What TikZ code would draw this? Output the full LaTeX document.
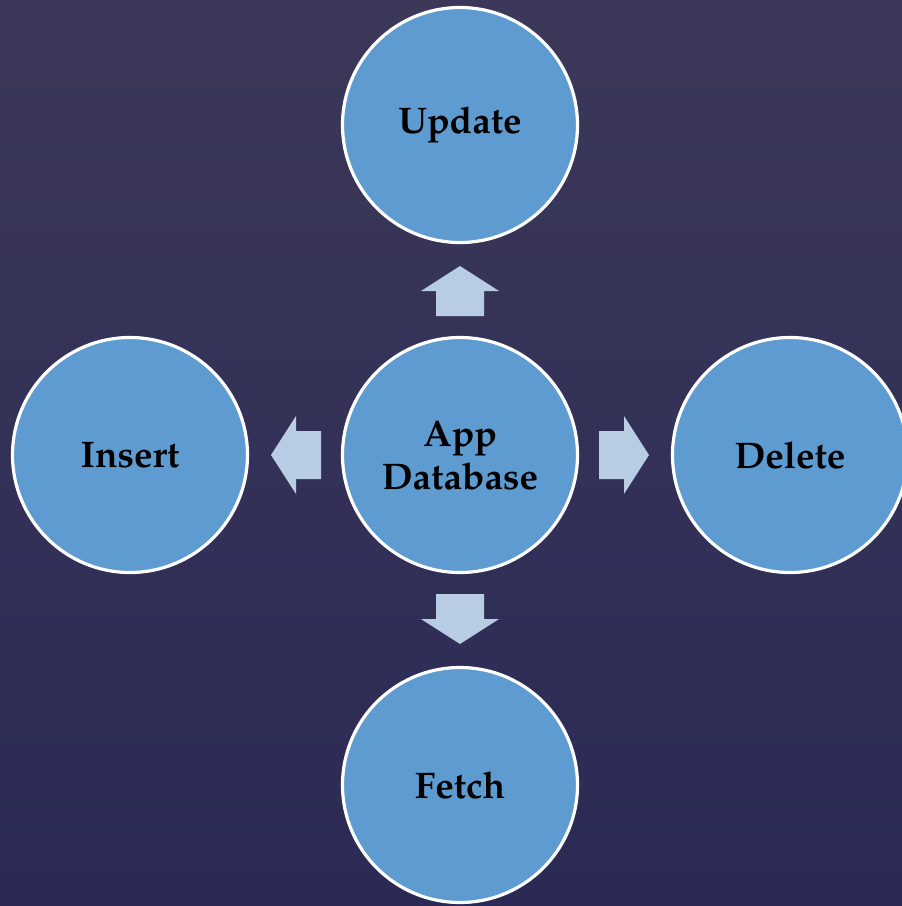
\documentclass[tikz,border=0pt]{standalone}
\usepackage[T1]{fontenc}
\usepackage{mathpazo}
\usetikzlibrary{calc}

\definecolor{bgtop}{HTML}{3B3859}
\definecolor{bgbottom}{HTML}{2B2A55}
\definecolor{circfill}{HTML}{5E9BD0}
\definecolor{arrowfill}{HTML}{B8CDE4}

\tikzset{
  op/.style={circle, fill=circfill, draw=white, line width=3.2pt,
    minimum size=235pt, inner sep=0pt, align=center,
    font=\fontsize{37}{43}\selectfont\bfseries, text=black},
  blockarrow/.pic={
    \fill[arrowfill] (139,-24) -- (164,-24) -- (164,-39) -- (189,0)
      -- (164,39) -- (164,24) -- (139,24) -- cycle;
  }
}

\begin{document}
\begin{tikzpicture}[x=1pt, y=-1pt]
  % background
  \shade[shading angle=-45, top color=bgtop, bottom color=bgbottom]
    (0,0) rectangle (902,906);
  \useasboundingbox (0,0) rectangle (902,906);

  % central hub and operations
  \node[op] (app)    at (460,455) {App\\Database};
  \node[op] (update) at (460,125) {Update};
  \node[op] (insert) at (130,455) {Insert};
  \node[op] (delete) at (790,455) {Delete};
  \node[op] (fetch)  at (460,785) {Fetch};

  % block arrows leaving the hub
  \pic[rotate=90]  at (app.center) {blockarrow};
  \pic[rotate=180] at (app.center) {blockarrow};
  \pic             at (app.center) {blockarrow};
  \pic[rotate=-90] at (app.center) {blockarrow};
\end{tikzpicture}
\end{document}
